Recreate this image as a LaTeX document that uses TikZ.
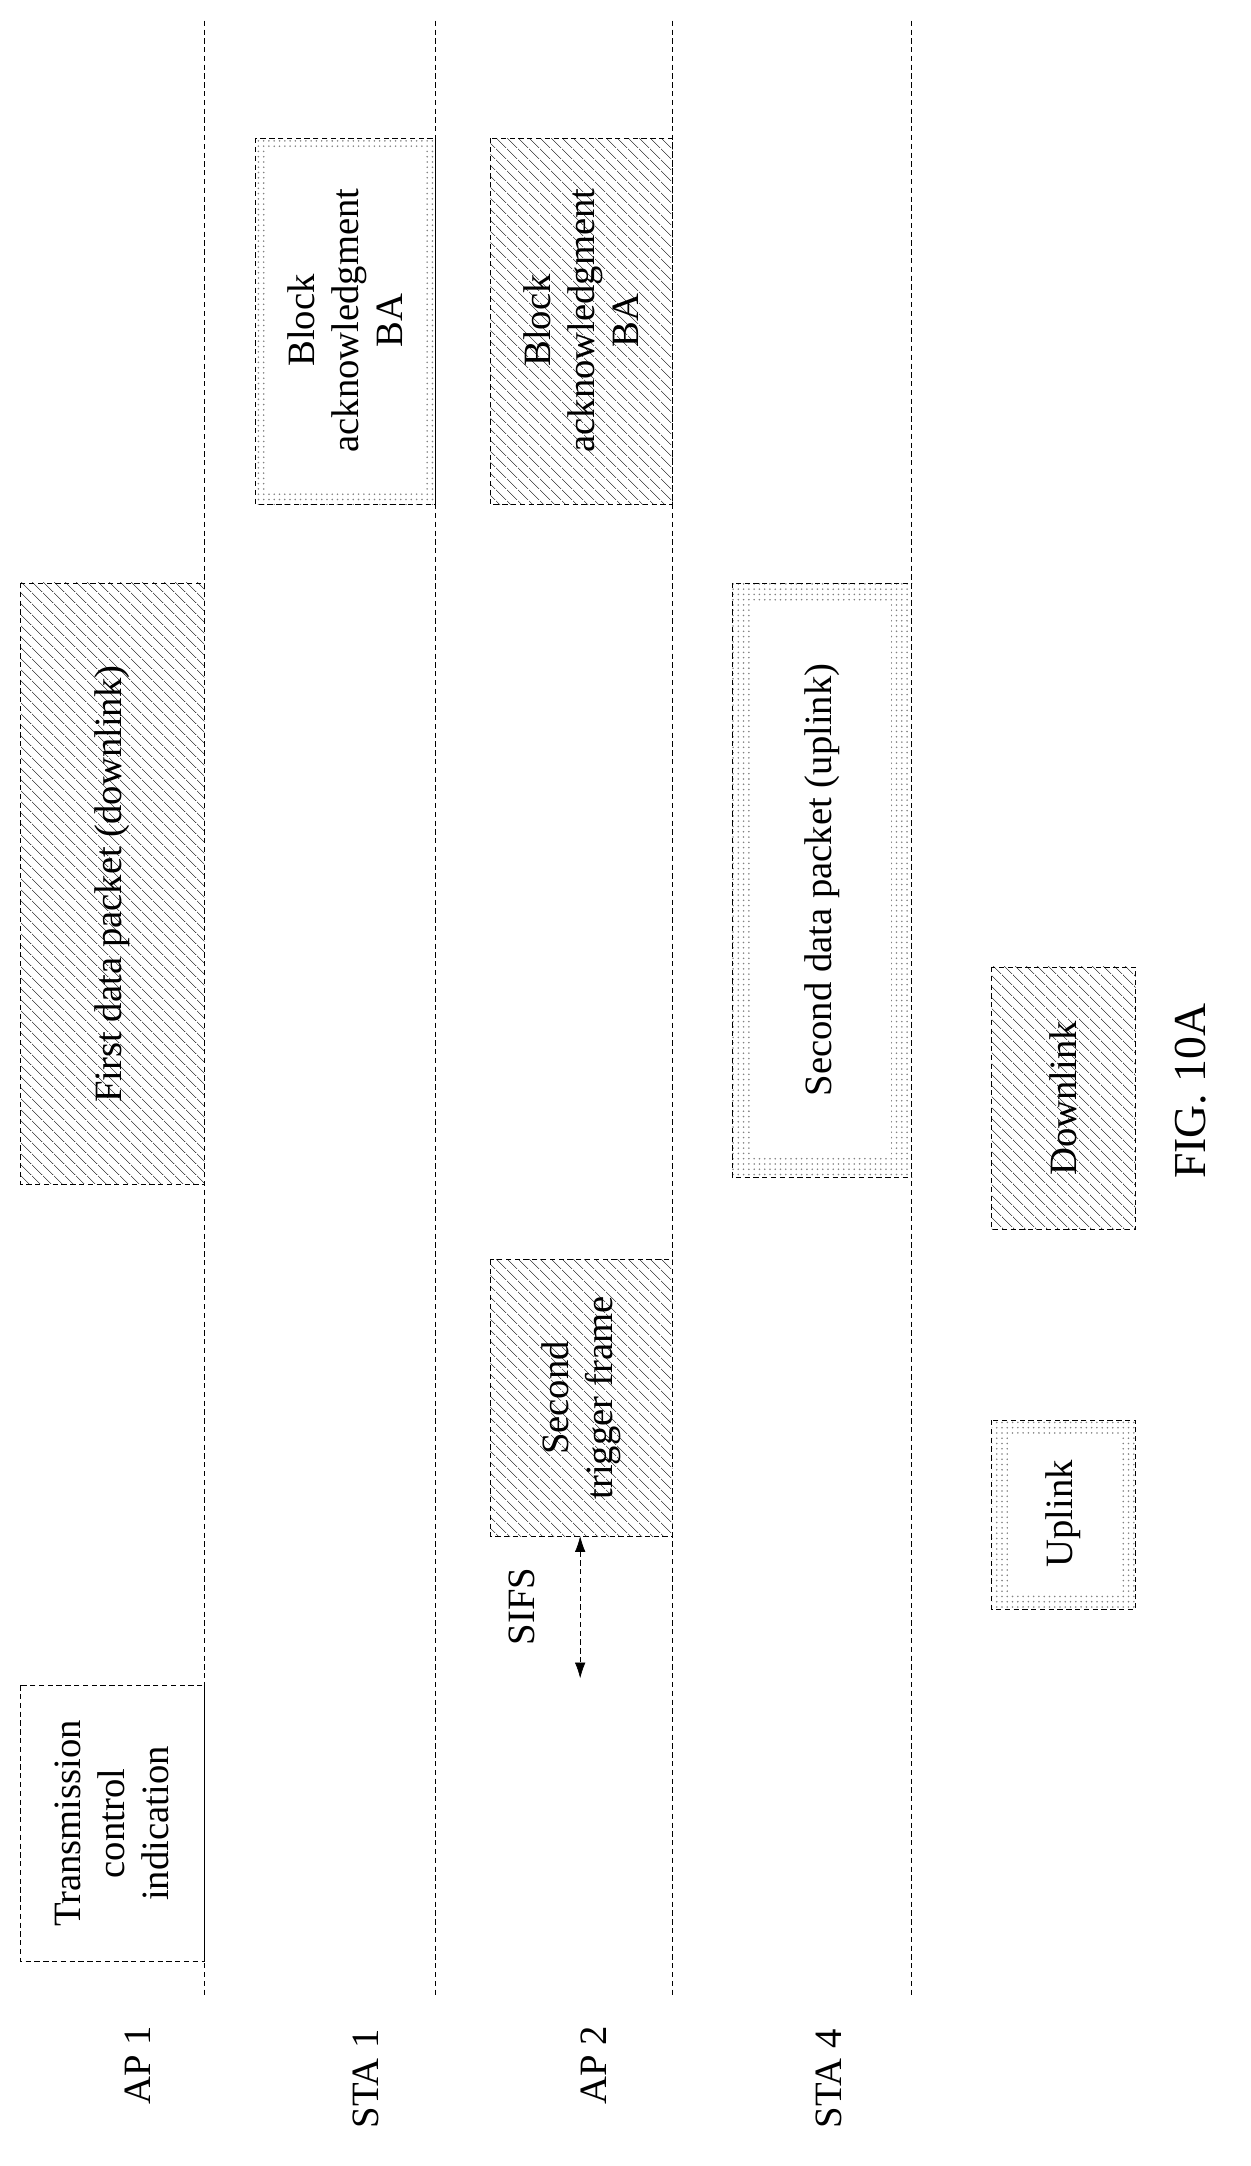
\documentclass[tikz,border=0pt]{standalone}
\usepackage{fontspec}
\setmainfont{Liberation Serif}
\usetikzlibrary{patterns,patterns.meta,arrows.meta}

\tikzdeclarepattern{
  name=sparselines,
  type=uncolored,
  bounding box={(0,0) and (6pt,6pt)},
  tile size={(6pt,6pt)},
  code={\draw[line width=0.3pt] (0,6pt) -- (6pt,0);}
}

\begin{document}
\begin{tikzpicture}[
        x=0.02762cm, y=-0.02762cm,
        every node/.style={font=\fontsize{22}{25}\selectfont, align=center, rotate=90},
        timeline/.style={densely dashed, thin},
        frame/.style={draw, densely dashed, thin},
        hatched/.style={frame, pattern=sparselines},
        dotted box/.style={frame, pattern=dots, pattern color=gray},
        inner/.style={fill=white, draw=none}
    ]
        \useasboundingbox (0,0) rectangle (905,1568);

        % timelines
        \foreach \x/\name in {148/ap1, 315/sta1, 487/ap2, 660/sta4}
            \draw[timeline] (\x,15) coordinate (\name top) -- (\x,1445) coordinate (\name bottom);

        % station labels
        \node (lap1) at (100,1495) {AP 1};
        \node (lsta1) at (265,1505) {STA 1};
        \node (lap2) at (430,1495) {AP 2};
        \node (lsta4) at (600,1505) {STA 4};

        % AP 1
        \draw[frame] (15,1220) rectangle (148,1420);
        \node (tci) at (81,1320) {Transmission\\control\\indication};
        \draw[hatched] (15,422) rectangle (148,857);
        \node (dp1) at (81,640) {First data packet (downlink)};

        % STA 1
        \draw[dotted box] (185,100) rectangle (315,365);
        \fill[inner] (193,108) rectangle (307,357);
        \node (ba1) at (250,232) {Block\\acknowledgment\\BA};

        % AP 2
        \draw[hatched] (355,100) rectangle (487,365);
        \node (ba2) at (421,232) {Block\\acknowledgment\\BA};
        \draw[hatched] (355,912) rectangle (487,1112);
        \node (trig) at (421,1012) {Second\\trigger frame};
        \coordinate (sifsa) at (420,1112);
        \coordinate (sifsb) at (420,1215);
        \draw[densely dashed, {Latex[length=9pt,width=6pt]}-{Latex[length=9pt,width=6pt]}] (sifsa) -- (sifsb);
        \node (sifs) at (378,1163) {SIFS};

        % STA 4
        \draw[dotted box] (530,422) rectangle (660,852);
        \fill[inner] (545,437) rectangle (645,837);
        \node (dp2) at (595,637) {Second data packet (uplink)};

        % legend
        \draw[dotted box] (718,1028) rectangle (822,1165);
        \fill[inner] (730,1040) rectangle (810,1153);
        \node (up) at (770,1096) {Uplink};
        \draw[hatched] (718,700) rectangle (822,890);
        \node (down) at (770,795) {Downlink};

        \node[font=\fontsize{26}{30}\selectfont] (fig) at (862,790) {FIG. 10A};
    \end{tikzpicture}
\end{document}
